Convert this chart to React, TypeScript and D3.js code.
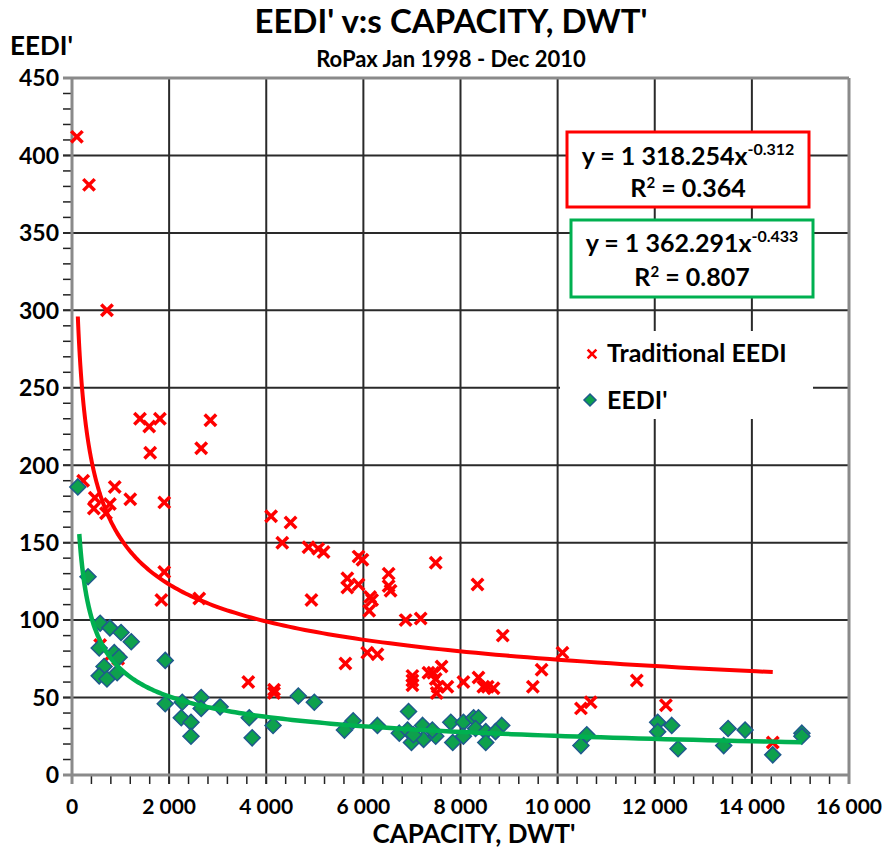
import React from "react";
import * as d3 from "d3";

// Traditional EEDI, RoPax ships (capacity DWT', EEDI)
const tradDwt = [
  100, 350, 720, 1400, 1590, 1810, 1610, 2850, 2660,
  230, 880, 470, 450, 780, 700, 1200, 1900,
  4100, 4500, 4330, 4870, 5070, 5180,
  5900, 5980, 7490, 6520, 5670, 5670, 5900, 6520, 6560, 6140, 6180, 6120,
  1900, 1840, 2620, 4930,
  8350, 6870, 7180, 8870, 6080, 6290, 5630, 10100, 9670, 9490,
  7010, 7010, 7010, 7340, 7440, 7610, 7490, 7530, 7510, 7730, 8060, 8370, 8470, 8560, 8680,
  10480, 10680, 11630, 12230, 14430,
  3630, 4160, 4160,
  580, 780, 950,
];
const tradEedi = [
  412, 381, 300, 230, 225, 230, 208, 229, 211,
  190, 186, 179, 172, 175, 169, 178, 176,
  167, 163, 150, 147, 146, 144,
  141, 139, 137, 130, 127, 121, 123, 122, 119, 115, 113, 106,
  131, 113, 114, 113,
  123, 100, 101, 90, 79, 78, 72, 79, 68, 57,
  64, 61, 58, 66, 66, 70, 62, 57, 53, 57, 60, 63, 57, 57, 56,
  43, 47, 61, 45, 21,
  60, 55, 53,
  84, 77, 75,
];

// EEDI' for the same fleet
const newDwt = [
  120, 330,
  580, 780, 1010, 1220, 560, 870, 970, 660, 560, 720, 930,
  1920, 1920, 2270, 2250, 2450, 2450, 2660, 2660, 3050, 3650, 3710,
  4140, 4660, 4990, 5610, 5790,
  6290, 6930, 6740, 6990, 7220, 7240, 7490, 7420, 7800, 7840, 8060, 8060, 8270, 8370, 8310, 8520, 8520, 8850, 8720, 6910, 7030,
  10480, 10600,
  12060, 12060, 12350, 12480, 13420, 13510, 13860, 14430, 15030, 15030,
];
const newEedi = [
  186, 128,
  98, 95, 92, 86, 82, 79, 76, 70, 64, 62, 66,
  74, 46, 47, 37, 34, 25, 50, 43, 44, 37, 24,
  32, 51, 47, 29, 35,
  32, 41, 27, 21, 32, 23, 25, 29, 34, 21, 34, 25, 37, 37, 30, 28, 21, 32, 28, 29, 26,
  19, 26,
  34, 28, 32, 17, 19, 30, 29, 13, 27, 25,
];

// Power-law trend lines y = a * x^b
const tradFit = { a: 1318.254, b: -0.312, from: 120, to: 14430, r2: "0.364" };
const newFit = { a: 1362.291, b: -0.433, from: 150, to: 15030, r2: "0.807" };

const xTicks = [0, 2000, 4000, 6000, 8000, 10000, 12000, 14000, 16000];
const yTicks = [0, 50, 100, 150, 200, 250, 300, 350, 400, 450];

const FONT = "Lato, 'Open Sans', 'DejaVu Sans', sans-serif";
const RED = "#ff0000";
const GREEN = "#00b050";
const DIAMOND_FILL = "#0ea14d";
const DIAMOND_EDGE = "#1f5a8c";

const fmt = (v: number) => d3.format(",")(v).replace(/,/g, " ");

function Cross({ cx, cy, r, w }: { cx: number; cy: number; r: number; w: number }) {
  return (
    <g stroke={RED} strokeWidth={w} strokeLinecap="square">
      <line x1={cx - r} y1={cy - r} x2={cx + r} y2={cy + r} />
      <line x1={cx - r} y1={cy + r} x2={cx + r} y2={cy - r} />
    </g>
  );
}

function Diamond({ cx, cy, r }: { cx: number; cy: number; r: number }) {
  return (
    <path
      d={`M${cx},${cy - r}L${cx + r},${cy}L${cx},${cy + r}L${cx - r},${cy}Z`}
      fill={DIAMOND_FILL}
      stroke={DIAMOND_EDGE}
      strokeWidth={1.5}
    />
  );
}

export default function App() {
  const x = d3.scaleLinear().domain([0, 16000]).range([72, 849]);
  const y = d3.scaleLinear().domain([0, 450]).range([775, 78]);

  const minorX = d3.range(0, 16001, 400);
  const minorY = d3.range(0, 451, 10);

  const fitPath = (f: { a: number; b: number; from: number; to: number }) => {
    const xs = d3.range(0, 201).map((i) => f.from * Math.pow(f.to / f.from, i / 200));
    return d3
      .line<number>()
      .x((v) => x(v))
      .y((v) => y(f.a * Math.pow(v, f.b)))
      .curve(d3.curveLinear)(xs) as string;
  };

  const [x0, x1] = x.range();
  const [y0, y1] = y.range();

  return (
    <svg
      width={888}
      height={848}
      style={{ position: "absolute", left: 0, top: 0, background: "#fff" }}
      fontFamily={FONT}
      fontWeight={700}
    >
      <rect width={888} height={848} fill="#fff" />

      {/* titles */}
      <text x={451} y={33} textAnchor="middle" fontSize={33} fill="#000">
        EEDI' v:s CAPACITY, DWT'
      </text>
      <text x={451} y={67} textAnchor="middle" fontSize={22} fill="#000">
        RoPax Jan 1998 - Dec 2010
      </text>
      <text x={10} y={55} fontSize={26} fill="#000">
        EEDI'
      </text>
      <text x={474} y={843} textAnchor="middle" fontSize={26} fill="#000">
        CAPACITY, DWT'
      </text>

      {/* minor ticks */}
      {minorY.map((v) => (
        <line key={`my${v}`} x1={63} x2={x0} y1={y(v)} y2={y(v)} stroke="#222" strokeWidth={1.5} />
      ))}
      {minorX.map((v) => (
        <line key={`mx${v}`} x1={x(v)} x2={x(v)} y1={y0} y2={y0 + 9} stroke="#222" strokeWidth={1.5} />
      ))}

      {/* grid */}
      {yTicks.filter((v) => v > 0 && v < 450).map((v) => (
        <line key={`gy${v}`} x1={63} x2={x1} y1={y(v)} y2={y(v)} stroke="#2a2a2a" strokeWidth={2} />
      ))}
      {xTicks.filter((v) => v > 0 && v < 16000).map((v) => (
        <line key={`gx${v}`} x1={x(v)} x2={x(v)} y1={y1} y2={y0 + 9} stroke="#2a2a2a" strokeWidth={2} />
      ))}

      {/* frame */}
      <line x1={63} x2={x1} y1={y1} y2={y1} stroke="#8a8a8a" strokeWidth={3} />
      <line x1={x1} x2={x1} y1={y1} y2={y0 + 9} stroke="#8a8a8a" strokeWidth={3} />
      <line x1={63} x2={x1} y1={y0} y2={y0} stroke="#8a8a8a" strokeWidth={3} />
      <line x1={x0} x2={x0} y1={y1} y2={y0 + 9} stroke="#8a8a8a" strokeWidth={3} />

      {/* tick labels */}
      {yTicks.map((v) => (
        <text key={`ty${v}`} x={59} y={y(v)} dy="0.36em" textAnchor="end" fontSize={23} fill="#000">
          {v}
        </text>
      ))}
      {xTicks.map((v) => (
        <text key={`tx${v}`} x={x(v)} y={814} textAnchor="middle" fontSize={21} fill="#000">
          {fmt(v)}
        </text>
      ))}

      {/* points */}
      {tradDwt.map((d, i) => (
        <Cross key={`t${i}`} cx={x(d)} cy={y(tradEedi[i])} r={4.5} w={3.5} />
      ))}
      {newDwt.map((d, i) => (
        <Diamond key={`n${i}`} cx={x(d)} cy={y(newEedi[i])} r={8} />
      ))}

      {/* trend lines */}
      <path d={fitPath(tradFit)} fill="none" stroke={RED} strokeWidth={4} />
      <path d={fitPath(newFit)} fill="none" stroke={GREEN} strokeWidth={4.5} />

      {/* equation boxes */}
      <rect x={567} y={132} width={242} height={75} fill="#fff" stroke={RED} strokeWidth={3} />
      <text x={688} y={165} textAnchor="middle" fontSize={25} fill="#000">
        y = 1 318.254x<tspan dy={-10} fontSize={16}>-0.312</tspan>
      </text>
      <text x={688} y={197} textAnchor="middle" fontSize={25} fill="#000">
        R<tspan dy={-9} fontSize={15}>2</tspan>
        <tspan dy={9}> = {tradFit.r2}</tspan>
      </text>

      <rect x={571} y={220} width={242} height={77} fill="#fff" stroke={GREEN} strokeWidth={3} />
      <text x={692} y={252} textAnchor="middle" fontSize={25} fill="#000">
        y = 1 362.291x<tspan dy={-10} fontSize={16}>-0.433</tspan>
      </text>
      <text x={692} y={286} textAnchor="middle" fontSize={25} fill="#000">
        R<tspan dy={-9} fontSize={15}>2</tspan>
        <tspan dy={9}> = {newFit.r2}</tspan>
      </text>

      {/* series legend */}
      <rect x={560} y={331} width={253} height={88} fill="#fff" />
      <Cross cx={592} cy={354} r={3.5} w={2.5} />
      <text x={607} y={362} fontSize={25} fill="#000">
        Traditional EEDI
      </text>
      <Diamond cx={590} cy={400} r={6} />
      <text x={607} y={409} fontSize={25} fill="#000">
        EEDI'
      </text>
    </svg>
  );
}
